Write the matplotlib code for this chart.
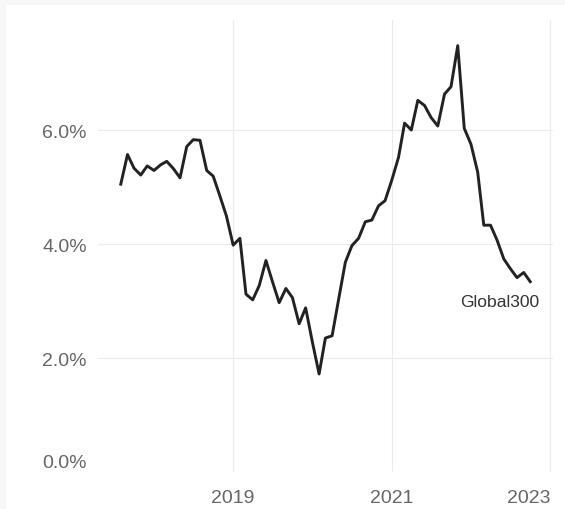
import matplotlib
matplotlib.use("Agg")
import matplotlib.pyplot as plt
import matplotlib.transforms as mtransforms
from matplotlib.patches import Rectangle
import pandas as pd

plt.rcParams['font.family'] = ['Liberation Sans', 'DejaVu Sans']

# monthly series, Aug 2017 .. Oct 2022 (percent)
dates = pd.date_range('2017-08-01', '2022-10-01', freq='MS')
global300 = [
    5.05, 5.57, 5.33, 5.21, 5.37, 5.29, 5.39, 5.45, 5.32, 5.16,
    5.71, 5.83, 5.82, 5.29, 5.19, 4.84, 4.49, 3.98, 4.10, 3.12,
    3.02, 3.27, 3.71, 3.34, 2.97, 3.22, 3.06, 2.60, 2.88, 2.28,
    1.72, 2.35, 2.39, 3.03, 3.68, 3.97, 4.10, 4.39, 4.42, 4.67,
    4.76, 5.12, 5.52, 6.12, 6.00, 6.52, 6.43, 6.22, 6.07, 6.63,
    6.76, 7.48, 6.03, 5.75, 5.26, 4.33, 4.33, 4.07, 3.74, 3.57,
    3.41, 3.50, 3.34,
]
series_name = 'Global300'
y_ticks = [0, 2, 4, 6]
y_labels = ['0.0%', '2.0%', '4.0%', '6.0%']
x_ticks = pd.to_datetime(['2019-01-01', '2021-01-01', '2023-01-01'])
x_labels = ['2019', '2021', '2023']

fig = plt.figure(figsize=(5.65, 5.1), dpi=100, facecolor='#f7f7f7')
# white card, light grey strip only on top and left
card = Rectangle((6 / 565, 0), 1 - 6 / 565, 1 - 6 / 510,
                 transform=fig.transFigure, facecolor='white',
                 edgecolor='none', zorder=-10)
fig.patches.append(card)

ax = fig.add_axes([98 / 565, 37 / 510, 455 / 565, 452 / 510])
ax.set_facecolor('none')
ax.set_zorder(1)

ax.plot(dates, global300, color='#222222', lw=2.1, zorder=3)

ax.set_ylim(0, 7.93)
ax.set_xlim(pd.Timestamp('2017-04-18'), pd.Timestamp('2023-01-14'))

ax.set_yticks(y_ticks)
ax.set_yticklabels(y_labels)
ax.set_xticks(x_ticks)
ax.set_xticklabels(x_labels)

ax.grid(True, color='#ebebeb', lw=0.8, zorder=0)
for s in ax.spines.values():
    s.set_visible(False)
ax.tick_params(axis='both', length=0, labelsize=14, labelcolor='#666666')
ax.tick_params(axis='y', pad=8)
ax.tick_params(axis='x', pad=12)

# keep edge labels inside the plot (bottom y label nudged up, last x label right aligned)
ylabs = ax.get_yticklabels()
ylabs[0].set_transform(ylabs[0].get_transform() +
                       mtransforms.ScaledTranslation(0, 11 / 100, fig.dpi_scale_trans))
xlabs = ax.get_xticklabels()
xlabs[-1].set_horizontalalignment('right')

ax.annotate(series_name, xy=(dates[-1], global300[-1]), xytext=(-22, -14),
            textcoords='offset points', ha='center', va='center',
            fontsize=12.6, color='#333333')

fig.savefig('out.png', dpi=100, facecolor=fig.get_facecolor())
